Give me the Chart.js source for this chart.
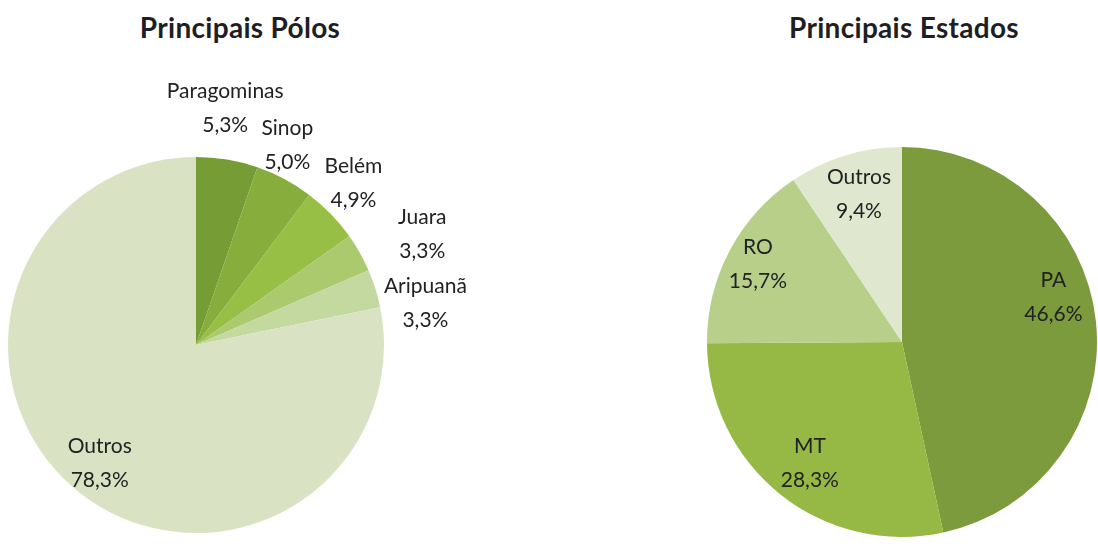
<!DOCTYPE html>
<html>
<head>
<meta charset="utf-8">
<script src="https://cdn.jsdelivr.net/npm/chart.js@4"></script>
<style>
  body { margin: 0; background: #ffffff; }
  #wrap { position: relative; width: 1098px; height: 544px; overflow: hidden; }
  canvas { position: absolute; top: 0; }
  .titulo { position: absolute; top: 10px; font: bold 28px Lato, sans-serif; color: #1e1e24;
            letter-spacing: 0.3px; line-height: 34px; white-space: nowrap; transform: translateX(-50%); }
</style>
</head>
<body>
<div id="wrap">
  <div class="titulo" style="left:240px">Principais Pólos</div>
  <div class="titulo" style="left:904px">Principais Estados</div>
  <canvas id="graficPolos" width="549" height="544" style="left:0px"></canvas>
  <canvas id="graficEstados" width="549" height="544" style="left:549px"></canvas>
</div>
<script>
// dades
const polosLabels = ['Paragominas', 'Sinop', 'Belém', 'Juara', 'Aripuanã', 'Outros'];
const polosValues = [5.3, 5.0, 4.9, 3.3, 3.3, 78.3];
const polosColors = ['#769c35', '#87ae3c', '#97be45', '#abca6e', '#c4d99f', '#d9e3c4'];

const estadosLabels = ['PA', 'MT', 'RO', 'Outros'];
const estadosValues = [46.6, 28.3, 15.7, 9.4];
const estadosColors = ['#7c9b3c', '#96b845', '#b7cf88', '#dfe7cf'];

// posicio de les etiquetes: factor del radi i desplaçament angular (graus)
const polosLabelRadius = [1.27, 1.17, 1.2, 1.34, 1.24, 0.81];
const polosLabelShift = [-2.5, -3.5, -1.6, 3.3, 7.3, 0];
const estadosLabelRadius = [0.81, 0.78, 0.84, 0.79];
const estadosLabelShift = [-10.4, -1.4, 0.5, 0.7];

function pct(v) {
    return v.toFixed(1).replace('.', ',') + '%';
}

const etiquetes = {
    id: 'etiquetes',
    afterDatasetsDraw(chart, args, opts) {
        const ctx = chart.ctx;
        const meta = chart.getDatasetMeta(0);
        const values = chart.data.datasets[0].data;
        ctx.save();
        ctx.font = '21px Lato, sans-serif';
        ctx.fillStyle = '#222222';
        ctx.textAlign = 'center';
        ctx.textBaseline = 'middle';
        meta.data.forEach(function(arc, i) {
            const p = arc.getProps(['x', 'y', 'startAngle', 'endAngle', 'outerRadius'], true);
            const mid = (p.startAngle + p.endAngle) / 2 + opts.shift[i] * Math.PI / 180;
            const r = p.outerRadius * opts.radius[i];
            const x = p.x + Math.cos(mid) * r;
            const y = p.y + Math.sin(mid) * r;
            ctx.fillText(chart.data.labels[i], x, y - 17);
            ctx.fillText(pct(values[i]), x, y + 17);
        });
        ctx.restore();
    }
};

function pintarPie(id, labels, values, colors, padding, radius, shift) {
    const ctx = document.getElementById(id).getContext('2d');
    return new Chart(ctx, {
        type: 'pie',
        data: {
            labels: labels,
            datasets: [{
                data: values,
                backgroundColor: colors,
                borderWidth: 0
            }]
        },
        options: {
            responsive: false,
            animation: false,
            layout: { padding: padding },
            plugins: {
                legend: { display: false },
                tooltip: { enabled: false },
                etiquetes: { radius: radius, shift: shift }
            }
        },
        plugins: [etiquetes]
    });
}

pintarPie('graficPolos', polosLabels, polosValues, polosColors,
    { left: 8, right: 165, top: 157, bottom: 11 }, polosLabelRadius, polosLabelShift);
pintarPie('graficEstados', estadosLabels, estadosValues, estadosColors,
    { left: 158, right: 1, top: 147, bottom: 7 }, estadosLabelRadius, estadosLabelShift);
</script>
</body>
</html>
